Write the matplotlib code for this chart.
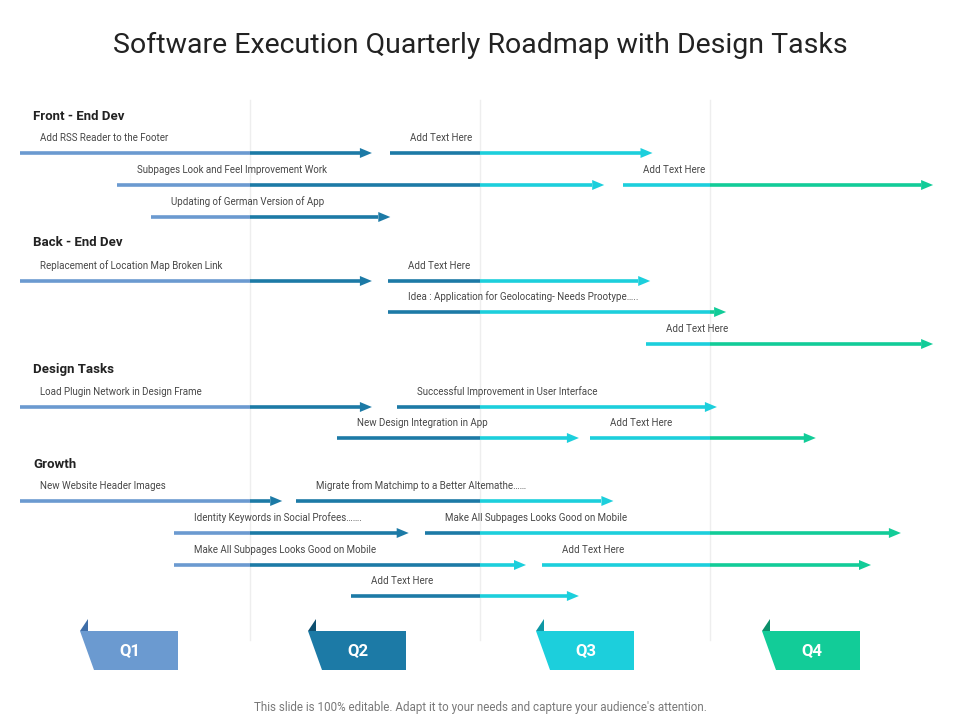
import matplotlib
matplotlib.use("Agg")
import matplotlib.pyplot as plt
from matplotlib.patches import Polygon

title = "Software Execution Quarterly Roadmap with Design Tasks"
footer = "This slide is 100% editable. Adapt it to your needs and capture your audience's attention."
quarters = ["Q1", "Q2", "Q3", "Q4"]
q_colors = ["#6b9ad0", "#1c7aa6", "#1ccfdc", "#12cc98"]
q_dark = ["#3f6ea8", "#0e4f70", "#0e97a4", "#0a8f6a"]

groups = ["Front - End Dev", "Back - End Dev", "Design Tasks", "Growth"]
group_y = [117, 243, 369, 464]

# task rows (row index), start/end in quarter units (0..4), labels
task_rows = [0, 0, 1, 1, 2, 4, 4, 5, 6, 8, 8, 9, 9, 11, 11, 12, 12, 13, 13, 14]
task_start = [0.00, 1.61, 0.42, 2.62, 0.57, 0.00, 1.60, 1.60, 2.72, 0.00, 1.64, 1.38, 2.48, 0.00, 1.20, 0.67, 1.76, 0.67, 2.27, 1.44]
task_end = [1.53, 2.75, 2.54, 3.97, 1.61, 1.53, 2.74, 3.07, 3.97, 1.53, 3.03, 2.43, 3.46, 1.14, 2.58, 1.69, 3.83, 2.20, 3.70, 2.43]
task_labels = [
    "Add RSS Reader to the Footer", "Add Text Here",
    "Subpages Look and Feel Improvement Work", "Add Text Here",
    "Updating of German Version of App",
    "Replacement of Location Map Broken Link", "Add Text Here",
    "Idea : Application for Geolocating- Needs Prootype…..",
    "Add Text Here",
    "Load Plugin Network in Design Frame", "Successful Improvement in User Interface",
    "New Design Integration in App", "Add Text Here",
    "New Website Header Images", "Migrate from Matchimp to a Better Altemathe……",
    "Identity Keywords in Social Profees…….", "Make All Subpages Looks Good on Mobile",
    "Make All Subpages Looks Good on Mobile", "Add Text Here",
    "Add Text Here",
]
row_y = [153, 185, 217, 249, 281, 312, 344, 376, 407, 438, 470, 501, 533, 565, 596]

fig = plt.figure(figsize=(9.6, 7.2), dpi=100)
ax = fig.add_axes([0, 0, 1, 1])
ax.set_xlim(0, 960)
ax.set_ylim(720, 0)
ax.axis("off")

X0, QW = 20, 230
def px(q):
    return X0 + q * QW

fnt = "Roboto"
ax.text(480, 45, title, ha="center", va="center", fontsize=20.5, family=fnt, color="#222222")
for k in (1, 2, 3):
    ax.plot([px(k), px(k)], [100, 640], color="#eeeeee", lw=1, zorder=0)

for g, gy in zip(groups, group_y):
    ax.text(33, gy, g, ha="left", va="center", fontsize=9.5, family=fnt, fontweight="bold", color="#222222")

for r, s, e, lab in zip(task_rows, task_start, task_end, task_labels):
    y = row_y[r]
    head = 12 / QW
    e_line = e - head
    for q in range(4):
        a, b = max(s, q), min(e_line, q + 1)
        if b > a:
            ax.plot([px(a), px(b)], [y, y], color=q_colors[q], lw=2.6, solid_capstyle="butt")
    qe = min(int(e_line), 3)
    ax.add_patch(Polygon([[px(e_line), y - 5], [px(e), y], [px(e_line), y + 5]],
                         closed=True, color=q_colors[qe], lw=0))
    ax.text(px(s) + 20, y - 15, lab, ha="left", va="center", fontsize=7, family=fnt, color="#444444")

tab_x = [80, 308, 536, 762]
for q, x in enumerate(tab_x):
    ax.add_patch(Polygon([[x, 631], [x + 98, 631], [x + 98, 670], [x + 14, 670]],
                         closed=True, color=q_colors[q], lw=0))
    ax.add_patch(Polygon([[x, 631], [x + 8, 619], [x + 8, 631]], closed=True, color=q_dark[q], lw=0))
    ax.text(x + 50, 651, quarters[q], ha="center", va="center", fontsize=12,
            fontweight="bold", family=fnt, color="white")

ax.text(480, 708, footer, ha="center", va="center", fontsize=8.4, family=fnt, color="#777777")
fig.savefig("out.png", dpi=100)
